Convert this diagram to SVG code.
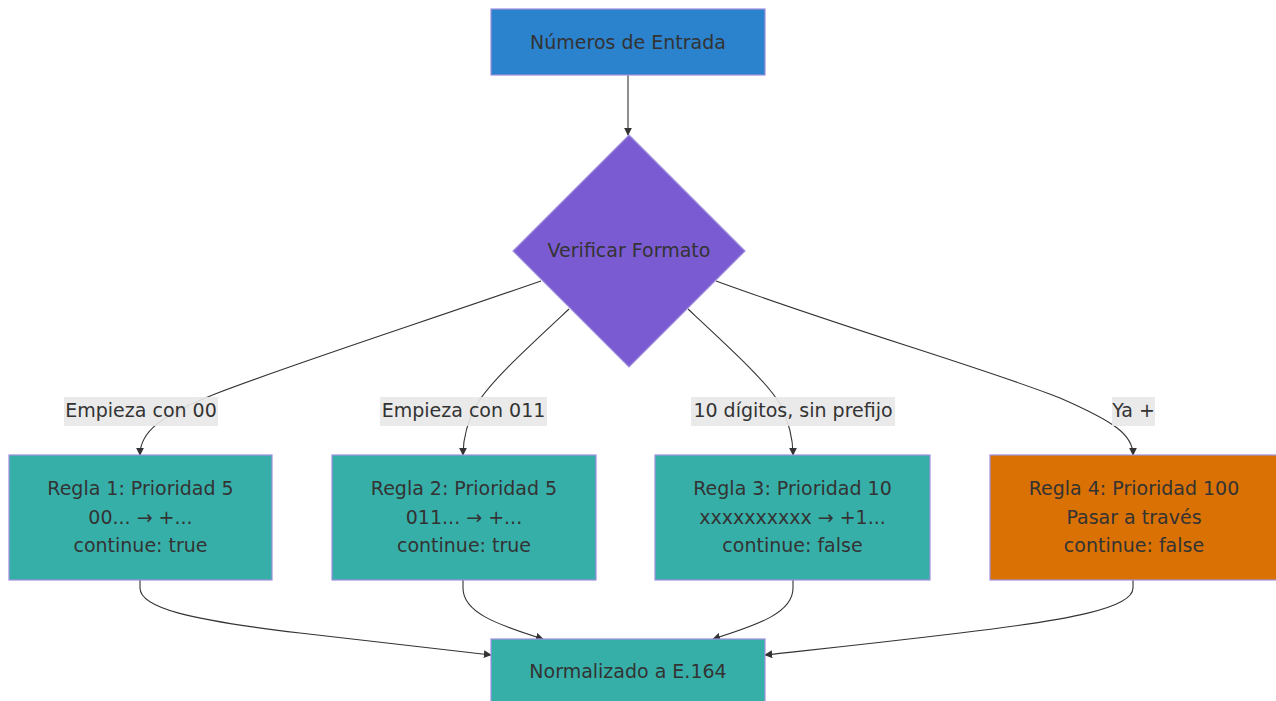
<svg xmlns="http://www.w3.org/2000/svg" width="1276" height="701" viewBox="0 0 1276 701">
<defs>
<style>
.t{font-family:"DejaVu Sans",Verdana,sans-serif;font-size:19px;fill:#333;text-anchor:middle;dominant-baseline:central}
.box{stroke:#9f8fe0;stroke-width:1.2}
.teal{fill:#37afa9}
.e{fill:none;stroke:#333;stroke-width:1.1}
.lb{fill:#e8e8e8;opacity:0.9}
</style>
<marker id="ah" viewBox="0 0 10 10" refX="9" refY="5" markerWidth="8" markerHeight="8" markerUnits="userSpaceOnUse" orient="auto">
<path d="M0,0 L10,5 L0,10 z" fill="#333"/>
</marker>
</defs>
<rect width="1276" height="701" fill="#fff"/>
<g id="connectors">
<path class="e" d="M628,75 L628,135" marker-end="url(#ah)"/>
<path class="e" d="M541,281 C420,323 290,365 215,394 C160,416 140,432 140,455" marker-end="url(#ah)"/>
<path class="e" d="M569,309 C525,350 490,382 477,404 C466,424 463,440 463,455" marker-end="url(#ah)"/>
<path class="e" d="M688,309 C732,350 767,382 780,404 C790,424 793,440 793,455" marker-end="url(#ah)"/>
<path class="e" d="M716,281 C850,330 990,370 1060,398 C1115,422 1133,435 1133,455" marker-end="url(#ah)"/>
<path class="e" d="M140,580 L140,588 C140,608 190,620 300,633 C400,645 450,650 491,655" marker-end="url(#ah)"/>
<path class="e" d="M463,580 L463,588 C463,612 495,624 543,639" marker-end="url(#ah)"/>
<path class="e" d="M793,580 L793,588 C793,612 761,624 713,639" marker-end="url(#ah)"/>
<path class="e" d="M1133,580 L1133,588 C1133,608 1070,620 960,633 C860,645 810,650 765,655" marker-end="url(#ah)"/>
</g>
<g id="labels">
<rect class="lb" x="64" y="397" width="154" height="29"/>
<text class="t" x="141" y="410">Empieza con 00</text>
<rect class="lb" x="380" y="397" width="167" height="29"/>
<text class="t" x="463.5" y="410">Empieza con 011</text>
<rect class="lb" x="691" y="397" width="204" height="29"/>
<text class="t" x="793" y="410">10 dígitos, sin prefijo</text>
<rect class="lb" x="1112" y="397" width="43" height="29"/>
<text class="t" x="1133.5" y="410">Ya +</text>
</g>
<g id="n-entrada">
<rect class="box" x="491" y="9" width="274" height="66" fill="#2b82cd"/>
<text class="t" x="628" y="42">Números de Entrada</text>
</g>
<g id="n-verificar">
<polygon class="box" points="629,135 745,251 629,367 513,251" fill="#7b5bd1" stroke="none"/>
<text class="t" x="629" y="250">Verificar Formato</text>
</g>
<g id="n-regla1">
<rect class="box teal" x="9" y="455" width="263" height="125"/>
<text class="t" x="140.5" y="488">Regla 1: Prioridad 5</text>
<text class="t" x="140.5" y="517">00... → +...</text>
<text class="t" x="140.5" y="545">continue: true</text>
</g>
<g id="n-regla2">
<rect class="box teal" x="332" y="455" width="264" height="125"/>
<text class="t" x="464" y="488">Regla 2: Prioridad 5</text>
<text class="t" x="464" y="517">011... → +...</text>
<text class="t" x="464" y="545">continue: true</text>
</g>
<g id="n-regla3">
<rect class="box teal" x="655" y="455" width="275" height="125"/>
<text class="t" x="792.5" y="488">Regla 3: Prioridad 10</text>
<text class="t" x="792.5" y="517">xxxxxxxxxx → +1...</text>
<text class="t" x="792.5" y="545">continue: false</text>
</g>
<g id="n-regla4">
<rect class="box" x="990" y="455" width="288" height="125" fill="#d97104"/>
<text class="t" x="1134" y="488">Regla 4: Prioridad 100</text>
<text class="t" x="1134" y="517">Pasar a través</text>
<text class="t" x="1134" y="545">continue: false</text>
</g>
<g id="n-normalizado">
<rect class="box teal" x="491" y="639" width="274" height="66"/>
<text class="t" x="628" y="671">Normalizado a E.164</text>
</g>
</svg>
